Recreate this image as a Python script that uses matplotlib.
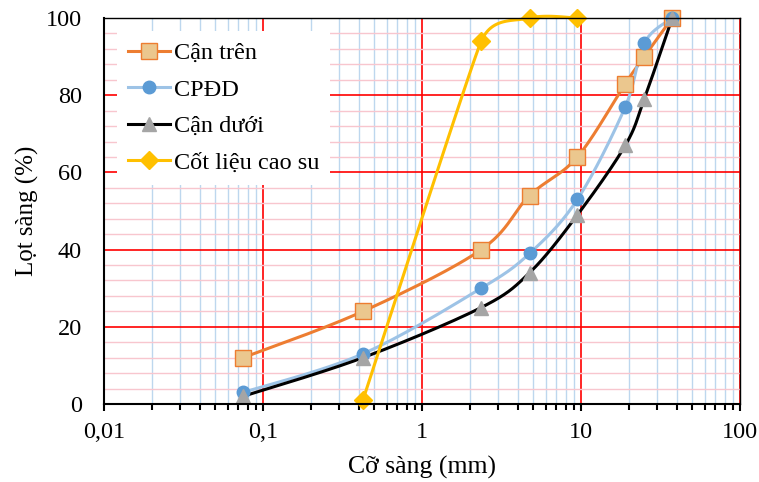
import numpy as np
import matplotlib
matplotlib.use('Agg')
import matplotlib.pyplot as plt
from matplotlib.ticker import FixedLocator, FixedFormatter, LogLocator, NullFormatter, MultipleLocator

plt.rcParams['font.family'] = ['Liberation Serif', 'DejaVu Serif']

# sieve sizes (mm)
sieve = [0.075, 0.425, 2.36, 4.75, 9.5, 19, 25, 37.5]
upper = [12, 24, 40, 54, 64, 83, 90, 100]       # Can tren
cpdd = [3, 13, 30, 39, 53, 77, 93.5, 100]       # CPDD
lower = [2, 12, 25, 34, 49, 67, 79, 100]        # Can duoi
rubber_sieve = [0.425, 2.36, 4.75, 9.5]
rubber = [1, 94, 100, 100]                      # Cot lieu cao su

names = ['Cận trên', 'CPĐD', 'Cận dưới', 'Cốt liệu cao su']
xticks = [0.01, 0.1, 1, 10, 100]
xticklabels = ['0,01', '0,1', '1', '10', '100']

FS = 17.5


def smooth(xs, ys, n=30):
    # Excel-like smoothed line: bezier segments, tangent length limited by the
    # shorter neighbouring chord so short segments do not overshoot
    u = (np.log10(xs) + 2) / 4 * 635
    v = np.asarray(ys, float) / 100 * 386
    P = np.column_stack([u, v])
    m = len(P)
    out = [P[0]]
    t = np.linspace(0, 1, n)[1:, None]

    def tangent(i):
        a = P[max(i - 1, 0)]
        b = P[min(i + 1, m - 1)]
        d = b - a
        d02 = np.linalg.norm(d)
        lens = [d02 / 6]
        if i > 0:
            lens.append(np.linalg.norm(P[i] - a) / 2)
        if i < m - 1:
            lens.append(np.linalg.norm(b - P[i]) / 2)
        return d / d02 * min(lens)

    for i in range(m - 1):
        c1 = P[i] + tangent(i)
        c2 = P[i + 1] - tangent(i + 1)
        seg = ((1 - t) ** 3 * P[i] + 3 * (1 - t) ** 2 * t * c1
               + 3 * (1 - t) * t ** 2 * c2 + t ** 3 * P[i + 1])
        out.extend(seg)
    out = np.array(out)
    return 10 ** (out[:, 0] / 635 * 4 - 2), out[:, 1] / 386 * 100


fig = plt.figure(figsize=(7.59, 4.82), dpi=100)
ax = fig.add_axes([0.1370, 0.1618, 0.8379, 0.8009])

styles = [
    dict(color='#ED7D31', marker='s', mfc='#EBC78E', mec='#ED7D31', ms=11),
    dict(color='#9DC3E6', marker='o', mfc='#5B9BD5', mec='#5B9BD5', ms=9),
    dict(color='#000000', marker='^', mfc='#A5A5A5', mec='#A5A5A5', ms=10),
    dict(color='#FFC000', marker='D', mfc='#FFC000', mec='#FFC000', ms=9),
]
series = [(sieve, upper), (sieve, cpdd), (sieve, lower), (rubber_sieve, rubber)]

handles = []
for (xs, ys), st, name in zip(series, styles, names):
    sx, sy = smooth(xs, ys)
    ax.plot(sx, sy, color=st['color'], lw=2.2, zorder=3, clip_on=False)
    ax.plot(xs, ys, ls='none', marker=st['marker'], mfc=st['mfc'], mec=st['mec'],
            ms=st['ms'], mew=1, zorder=4, clip_on=False)
    h, = ax.plot([], [], color=st['color'], lw=2.2, marker=st['marker'],
                 mfc=st['mfc'], mec=st['mec'], ms=st['ms'], mew=1)
    handles.append(h)

ax.set_xscale('log')
ax.set_xlim(0.01, 100)
ax.set_ylim(0, 100)

ax.xaxis.set_major_locator(FixedLocator(xticks))
ax.xaxis.set_major_formatter(FixedFormatter(xticklabels))
ax.xaxis.set_minor_locator(LogLocator(base=10, subs=np.arange(2, 10)))
ax.xaxis.set_minor_formatter(NullFormatter())
ax.yaxis.set_major_locator(MultipleLocator(20))
ax.yaxis.set_minor_locator(MultipleLocator(4))

ax.grid(which='major', color='#FF0000', lw=1.2, zorder=1)
ax.grid(which='minor', axis='x', color='#BDD7EE', lw=1, zorder=0)
ax.grid(which='minor', axis='y', color='#F8C6CE', lw=1, zorder=0)
ax.set_axisbelow(True)

ax.tick_params(axis='x', which='major', direction='out', length=5, width=1.5,
               labelsize=FS, pad=8)
ax.tick_params(axis='x', which='minor', direction='out', length=4, width=1.5)
ax.tick_params(axis='y', which='both', length=0, labelsize=FS, pad=16)
for s in ax.spines.values():
    s.set_linewidth(1.5)
    s.set_zorder(5)
ax.spines['top'].set_linewidth(1)
ax.spines['right'].set_linewidth(1)

ax.set_xlabel('Cỡ sàng (mm)', fontsize=18.5, labelpad=9)
ax.set_ylabel('Lọt sàng (%)', fontsize=18, labelpad=4.5)

leg = ax.legend(handles, names, loc='upper left', bbox_to_anchor=(0.02, 0.966),
                borderaxespad=0, fontsize=FS, frameon=True, framealpha=1,
                edgecolor='none', fancybox=False, handlelength=1.75,
                handletextpad=0.15, labelspacing=0.6, borderpad=0.45)
leg.set_zorder(6)

fig.savefig('out.png', dpi=100)
